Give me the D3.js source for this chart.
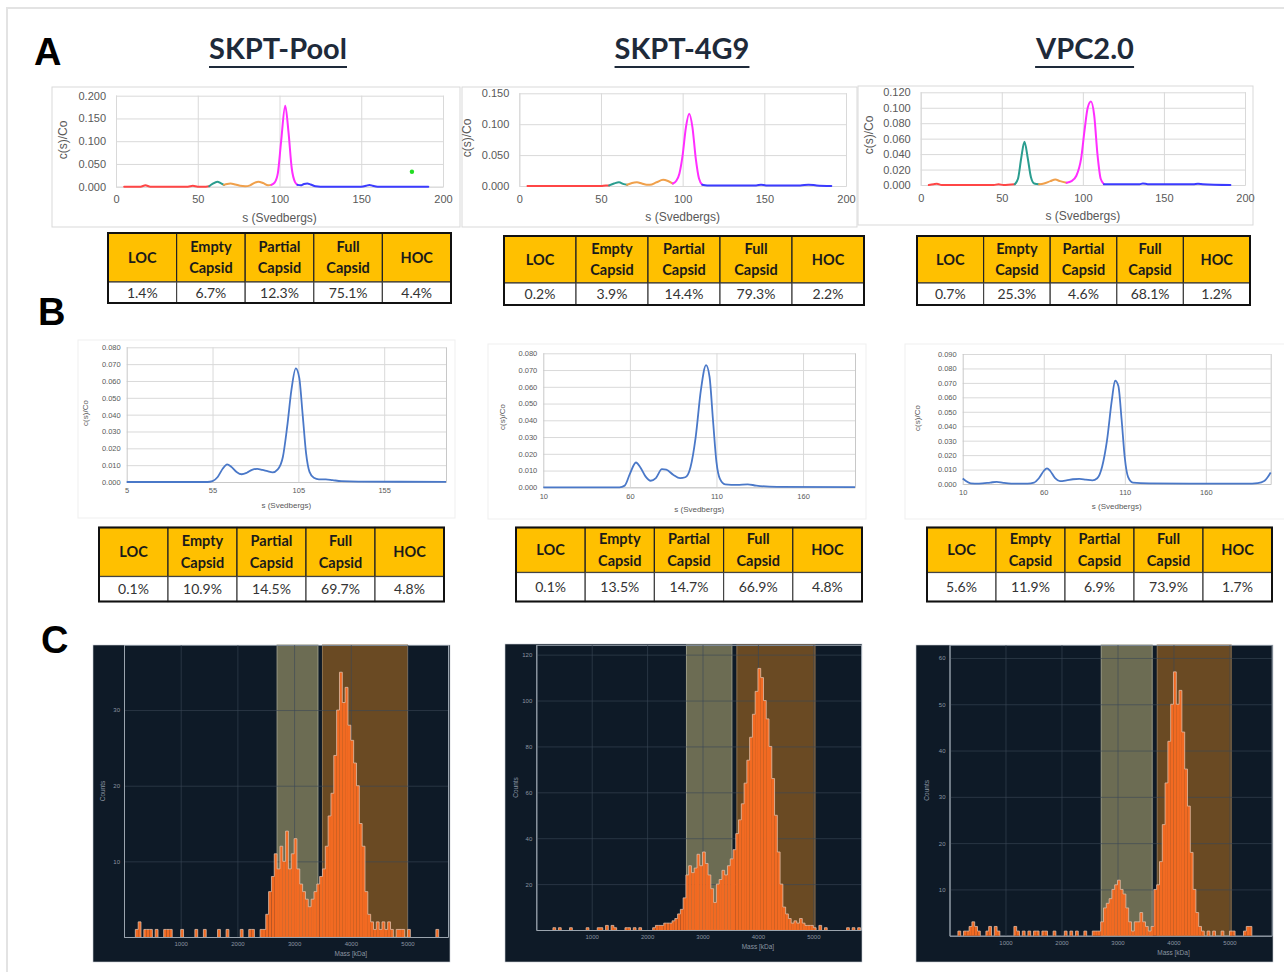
<!DOCTYPE html>
<html>
<head>
<meta charset="utf-8">
<script src="https://cdn.jsdelivr.net/npm/d3@7"></script>
<style>
  body { margin: 0; background: #fff; }
</style>
</head>
<body>
<div id="fig"></div>
<script>
// ---------- data ----------
const sampleNames = ['SKPT-Pool', 'SKPT-4G9', 'VPC2.0'];
const fractionNames = ['LOC', 'Empty Capsid', 'Partial Capsid', 'Full Capsid', 'HOC'];
const segmentColors = ['#ff4646', '#2a9d8f', '#f0a04b', '#ff2eff', '#3b3bff'];

// A: c(s) distributions, [s, c(s)/Co]; breaks split the fractions
const poolA = [[5,0],[15,0],[18,0.003],[21,0],[44,0],[47,0.002],[50,0],[55,0],[57,0.001],[59,0.006],[62,0.011],[64,0.008],[66,0.004],[68,0.006],[70,0.007],[73,0.005],[76,0.002],[79,0.001],[82,0.003],[85,0.009],[87,0.011],[90,0.008],[93,0.003],[95,0.004],[97,0.009],[99,0.03],[101,0.1],[103.5,0.178],[105.5,0.12],[107.5,0.04],[109.5,0.01],[111,0.004],[113,0.003],[115,0.006],[117,0.007],[119,0.005],[122,0.001],[125,0],[150,0],[153,0.002],[155,0.004],[157,0.002],[160,0],[191,0]];
const poolABreaks = [57, 66, 95, 111];
const poolADot = [181, 0.033];
const g9A = [[5,0],[50,0],[53,0.001],[55,0.001],[58,0.004],[61,0.006],[64,0.003],[66,0.002],[69,0.005],[72,0.006],[75,0.004],[78,0.002],[80,0.002],[84,0.006],[88,0.010],[91,0.008],[94,0.004],[96,0.008],[98,0.02],[100,0.05],[102,0.095],[104,0.117],[106,0.095],[108,0.045],[110,0.012],[112,0.002],[115,0.001],[145,0.001],[148,0.002],[151,0.001],[172,0.001],[177,0.002],[182,0.001],[191,0]];
const g9ABreaks = [55, 66, 94, 112];
const vpcA = [[5,0],[8,0.001],[10,0.0015],[13,0],[45,0],[48,0.001],[51,0],[58,0.001],[60,0.008],[62,0.035],[64,0.056],[66,0.035],[68,0.01],[70,0.002],[73,0.001],[76,0.002],[80,0.005],[83,0.007],[86,0.005],[90,0.003],[93,0.005],[96,0.012],[99,0.035],[101,0.07],[103,0.1],[105,0.108],[107,0.09],[109,0.04],[111,0.008],[113,0.001],[135,0.001],[137,0.002],[140,0.001],[168,0.001],[171,0.0015],[174,0.001],[191,0]];
const vpcABreaks = [58, 73, 90, 113];

const poolAPct = ['1.4%', '6.7%', '12.3%', '75.1%', '4.4%'];
const g9APct = ['0.2%', '3.9%', '14.4%', '79.3%', '2.2%'];
const vpcAPct = ['0.7%', '25.3%', '4.6%', '68.1%', '1.2%'];

// B: c(s) distributions
const poolB = [[5,0],[52,0],[55,0.0005],[58,0.003],[61,0.008],[63.5,0.0105],[66,0.009],[69,0.006],[72,0.0046],[75,0.0055],[78,0.0072],[81,0.0078],[84,0.0072],[87,0.0064],[90,0.0057],[93,0.0075],[96,0.015],[98.5,0.033],[101,0.055],[103.5,0.0675],[105.5,0.062],[107.5,0.04],[109.5,0.017],[111.5,0.006],[114,0.0025],[117,0.0016],[121,0.0016],[125,0.0011],[130,0.0005],[140,0.0002],[191,0.0001]];
const g9B = [[10,0],[54,0],[57,0.001],[60,0.008],[63.5,0.0148],[66,0.012],[69,0.0065],[72,0.0039],[75,0.0055],[78.5,0.0108],[81,0.0105],[85,0.0075],[89,0.0055],[92,0.006],[95,0.012],[98,0.03],[101,0.058],[104,0.073],[106,0.066],[108,0.04],[110,0.015],[112,0.005],[115,0.0018],[122,0.0015],[128,0.0018],[133,0.001],[145,0.0003],[190,0.0001]];
const vpcB = [[10,0.0038],[12,0.002],[15,0.0005],[20,0.0003],[27,0.001],[31,0.0015],[35,0.0008],[40,0.0003],[50,0.0003],[54,0.001],[57,0.004],[60,0.009],[62,0.0108],[64,0.009],[67,0.004],[70,0.002],[74,0.0025],[78,0.0033],[82,0.0035],[86,0.003],[90,0.0025],[93,0.004],[96,0.012],[99,0.03],[102,0.058],[104,0.0715],[106,0.068],[108,0.045],[110,0.018],[112,0.005],[115,0.001],[125,0.0004],[150,0.0002],[185,0.0002],[192,0.0006],[196,0.002],[198,0.0045],[200,0.008]];

const poolBPct = ['0.1%', '10.9%', '14.5%', '69.7%', '4.8%'];
const g9BPct = ['0.1%', '13.5%', '14.7%', '66.9%', '4.8%'];
const vpcBPct = ['5.6%', '11.9%', '6.9%', '73.9%', '1.7%'];

// C: mass photometry histograms, [bin start kDa, counts], bin width 50 kDa
const histBin = 50;
const poolC = [[200,1],[250,2],[350,1],[400,1],[450,1],[550,1],[700,1],[750,1],[800,1],[1000,1],[1250,1],[1400,1],[1650,1],[1800,1],[2050,1],[2200,1],[2250,1],[2400,1],[2450,1],[2500,3],[2550,6],[2600,8],[2650,11],[2700,9],[2750,12],[2800,10],[2850,14],[2900,9],[2950,11],[3000,13],[3050,9],[3100,7],[3150,6],[3200,5],[3250,4],[3300,5],[3350,6],[3400,7],[3450,8],[3500,9],[3550,12],[3600,16],[3650,19],[3700,24],[3750,30],[3800,35],[3850,31],[3900,33],[3950,28],[4000,26],[4050,23],[4100,20],[4150,15],[4200,12],[4250,6],[4300,3],[4350,2],[4400,1],[4450,2],[4500,1],[4550,2],[4600,1],[4650,2],[4700,1],[4800,1],[4850,1],[4900,1],[5000,1],[5500,1]];
const g9C = [[300,1],[400,1],[600,1],[900,1],[1100,1],[1150,1],[1250,2],[1350,2],[1400,1],[1600,1],[1650,1],[1750,1],[1850,1],[2100,1],[2150,2],[2200,2],[2250,2],[2300,3],[2350,3],[2400,3],[2450,4],[2500,5],[2550,7],[2600,9],[2650,14],[2700,24],[2750,28],[2800,25],[2850,27],[2900,33],[2950,28],[3000,34],[3050,29],[3100,24],[3150,18],[3200,12],[3250,20],[3300,22],[3350,26],[3400,24],[3450,28],[3500,31],[3550,35],[3600,42],[3650,48],[3700,55],[3750,64],[3800,74],[3850,84],[3900,94],[3950,104],[4000,114],[4050,110],[4100,100],[4150,92],[4200,80],[4250,66],[4300,50],[4350,34],[4400,20],[4450,10],[4500,7],[4550,5],[4600,3],[4650,4],[4700,3],[4750,5],[4800,3],[4850,2],[4900,2],[4950,2],[5000,1],[5100,2],[5200,1],[5600,1],[5700,1],[5800,1]];
const vpcC = [[150,1],[250,1],[300,1],[350,2],[400,3],[450,2],[500,1],[650,1],[700,2],[800,2],[850,1],[1150,2],[1200,1],[1300,1],[1400,1],[1500,1],[1550,1],[1650,1],[1700,1],[1850,1],[2050,1],[2150,1],[2250,1],[2400,1],[2550,1],[2600,1],[2650,1],[2700,3],[2750,6],[2800,7],[2850,8],[2900,10],[2950,11],[3000,12],[3050,10],[3100,9],[3150,6],[3200,3],[3250,1],[3300,3],[3350,3],[3400,5],[3450,3],[3500,2],[3550,1],[3600,2],[3650,10],[3700,11],[3750,16],[3800,24],[3850,33],[3900,42],[3950,50],[4000,57],[4050,50],[4100,53],[4150,44],[4200,36],[4250,28],[4300,18],[4350,10],[4400,5],[4450,2],[4500,1],[4600,1],[4700,1],[4850,1],[5000,1],[5050,1],[5250,1],[5300,2],[5350,2]];

// gates [from, to] in kDa: empty / full
const poolGates = [[2700, 3420], [3500, 5000]];
const g9Gates = [[2710, 3530], [3620, 5030]];
const vpcGates = [[2710, 3620], [3710, 5030]];

const massTicks = [1000, 2000, 3000, 4000, 5000];

// ---------- svg ----------
const W = 1284, H = 972;
const svg = d3.select('#fig').append('svg').attr('width', W).attr('height', H);

svg.append('rect')
  .attr('x', 7).attr('y', 8).attr('width', 1300).attr('height', 1000)
  .attr('fill', '#fff').attr('stroke', '#e3e3e3').attr('stroke-width', 2);

const SANS = "'Liberation Sans', Arial, sans-serif";
const CAL = "Lato, 'Open Sans', sans-serif";

// panel letters
[['A', 34, 65], ['B', 38, 325], ['C', 41, 653]].forEach(([t, x, y]) => {
  svg.append('text').attr('x', x).attr('y', y).text(t)
    .style('font', `bold 38px ${SANS}`).attr('fill', '#000');
});

// sample titles
[[278, sampleNames[0]], [682, sampleNames[1]], [1085, sampleNames[2]]].forEach(([cx, name]) => {
  const t = svg.append('text').attr('x', cx).attr('y', 59).attr('text-anchor', 'middle').text(name)
    .style('font', `bold 29px ${CAL}`).attr('fill', '#1e2a3a');
  const bb = t.node().getBBox();
  svg.append('line').attr('x1', bb.x).attr('x2', bb.x + bb.width).attr('y1', 67).attr('y2', 67)
    .attr('stroke', '#1e2a3a').attr('stroke-width', 2.2);
});

//#region sedimentation charts
function sedChart(c) {
  const g = svg.append('g');
  g.append('rect')
    .attr('x', c.frame[0]).attr('y', c.frame[1])
    .attr('width', c.frame[2] - c.frame[0]).attr('height', c.frame[3] - c.frame[1])
    .attr('fill', '#fff').attr('stroke', c.frameColor).attr('stroke-width', 1);

  const x = d3.scaleLinear().domain(c.xDomain).range([c.left, c.right]);
  const y = d3.scaleLinear().domain(c.yDomain).range([c.bottom, c.top]);

  const yAx = g.append('g').attr('transform', `translate(${c.left},0)`)
    .call(d3.axisLeft(y).tickValues(c.yTicks).tickSize(-(c.right - c.left))
      .tickPadding(c.yPad).tickFormat(d3.format('.3f')));
  yAx.select('.domain').remove();
  yAx.selectAll('line').attr('stroke', '#d9d9d9');
  yAx.selectAll('text').attr('fill', '#595959').style('font', `${c.font}px ${SANS}`);

  const xAx = g.append('g').attr('transform', `translate(0,${c.bottom})`)
    .call(d3.axisBottom(x).tickValues(c.xTicks).tickSize(-(c.bottom - c.top))
      .tickPadding(c.xPad).tickFormat(d3.format('d')));
  xAx.select('.domain').attr('stroke', c.axisColor);
  xAx.selectAll('line').attr('stroke', '#d9d9d9')
    .filter(d => c.noEdgeGrid && d === c.xDomain[0]).remove();
  xAx.selectAll('text').attr('fill', '#595959').style('font', `${c.font}px ${SANS}`);

  g.append('text').attr('x', (c.left + c.right) / 2).attr('y', c.xTitleY)
    .attr('text-anchor', 'middle').text('s (Svedbergs)')
    .attr('fill', '#595959').style('font', `${c.titleFont}px ${SANS}`);
  g.append('text').attr('transform', `translate(${c.yTitleX},${c.yTitleY}) rotate(-90)`)
    .attr('text-anchor', 'middle').text('c(s)/Co')
    .attr('fill', '#595959').style('font', `${c.titleFont}px ${SANS}`);

  const line = d3.line().x(d => x(d[0])).y(d => y(d[1])).curve(d3.curveMonotoneX);

  if (c.breaks) {
    const edges = [-Infinity, ...c.breaks, Infinity];
    segmentColors.forEach((col, i) => {
      const pts = c.data.filter(d => d[0] >= edges[i] && d[0] <= edges[i + 1]);
      g.append('path').attr('d', line(pts)).attr('fill', 'none')
        .attr('stroke', col).attr('stroke-width', c.lineWidth)
        .attr('stroke-linejoin', 'round').attr('stroke-linecap', 'round');
    });
  } else {
    g.append('path').attr('d', line(c.data)).attr('fill', 'none')
      .attr('stroke', c.lineColor).attr('stroke-width', c.lineWidth)
      .attr('stroke-linejoin', 'round');
  }
  if (c.dot) {
    g.append('circle').attr('cx', x(c.dot[0])).attr('cy', y(c.dot[1])).attr('r', 2.2).attr('fill', '#22dd22');
  }
}

const aBase = { frameColor: '#d9d9d9', axisColor: '#d9d9d9', font: 11, titleFont: 12, yPad: 10, xPad: 9, lineWidth: 2, xDomain: [0, 200], xTicks: [0, 50, 100, 150, 200] };
sedChart({ ...aBase, data: poolA, breaks: poolABreaks, dot: poolADot, frame: [52, 87, 460, 227],
  left: 116, right: 443, top: 95.7, bottom: 186.7, yDomain: [0, 0.2], yTicks: [0, 0.05, 0.1, 0.15, 0.2],
  xTitleY: 222, yTitleX: 67, yTitleY: 140 });
sedChart({ ...aBase, data: g9A, breaks: g9ABreaks, frame: [462, 87, 857, 227],
  left: 519.3, right: 846, top: 93.3, bottom: 186, yDomain: [0, 0.15], yTicks: [0, 0.05, 0.1, 0.15],
  xTitleY: 221, yTitleX: 471, yTitleY: 138 });
sedChart({ ...aBase, data: vpcA, breaks: vpcABreaks, frame: [858, 86, 1253, 225],
  left: 920.7, right: 1245, top: 92.3, bottom: 185, yDomain: [0, 0.12], yTicks: [0, 0.02, 0.04, 0.06, 0.08, 0.1, 0.12],
  xTitleY: 220, yTitleX: 873, yTitleY: 135 });

const bBase = { frameColor: '#efefef', axisColor: '#c8c8c8', font: 7.5, titleFont: 8, yPad: 6, xPad: 6, lineWidth: 1.8, lineColor: '#4a78c8', noEdgeGrid: true };
sedChart({ ...bBase, data: poolB, frame: [78, 340, 455, 518],
  left: 126.7, right: 446, top: 347.3, bottom: 482, xDomain: [5, 191], xTicks: [5, 55, 105, 155],
  yDomain: [0, 0.08], yTicks: [0, 0.01, 0.02, 0.03, 0.04, 0.05, 0.06, 0.07, 0.08],
  xTitleY: 508, yTitleX: 88, yTitleY: 413 });
sedChart({ ...bBase, data: g9B, frame: [488, 344, 866, 519],
  left: 543.3, right: 855, top: 353.3, bottom: 487.3, xDomain: [10, 190], xTicks: [10, 60, 110, 160],
  yDomain: [0, 0.08], yTicks: [0, 0.01, 0.02, 0.03, 0.04, 0.05, 0.06, 0.07, 0.08],
  xTitleY: 512, yTitleX: 505, yTitleY: 417 });
sedChart({ ...bBase, data: vpcB, frame: [905, 344, 1290, 519],
  left: 962.7, right: 1270.7, top: 354, bottom: 484, xDomain: [10, 200], xTicks: [10, 60, 110, 160],
  yDomain: [0, 0.09], yTicks: [0, 0.01, 0.02, 0.03, 0.04, 0.05, 0.06, 0.07, 0.08, 0.09],
  xTitleY: 509, yTitleX: 920, yTitleY: 418 });
//#endregion

//#region tables
function drawTable(t, values) {
  const g = svg.append('g');
  const col = d3.scaleBand().domain(fractionNames).range([t.x, t.x + t.w]);
  fractionNames.forEach((name, i) => {
    const cx = col(name) + col.bandwidth() / 2;
    g.append('rect').attr('x', col(name)).attr('y', t.y).attr('width', col.bandwidth()).attr('height', t.hh)
      .attr('fill', '#ffc000').attr('stroke', '#222').attr('stroke-width', 1.2);
    g.append('rect').attr('x', col(name)).attr('y', t.y + t.hh).attr('width', col.bandwidth()).attr('height', t.vh)
      .attr('fill', '#fff').attr('stroke', '#444').attr('stroke-width', 1.2);
    const lines = name.split(' ');
    const mid = t.y + t.hh / 2;
    lines.forEach((ln, j) => {
      g.append('text').attr('x', cx).attr('y', mid + (j - (lines.length - 1) / 2) * 21.5 + 5)
        .attr('text-anchor', 'middle').text(ln)
        .attr('fill', '#1a1a1a').style('font', `bold 14.5px ${CAL}`);
    });
    g.append('text').attr('x', cx).attr('y', t.y + t.hh + t.vh / 2 + 5)
      .attr('text-anchor', 'middle').text(values[i])
      .attr('fill', '#333').style('font', `14px ${CAL}`);
  });
  g.append('rect').attr('x', t.x).attr('y', t.y).attr('width', t.w).attr('height', t.hh + t.vh)
    .attr('fill', 'none').attr('stroke', '#111').attr('stroke-width', 2);
}

drawTable({ x: 108, y: 233, w: 343, hh: 49, vh: 21 }, poolAPct);
drawTable({ x: 504, y: 236, w: 360, hh: 47, vh: 22 }, g9APct);
drawTable({ x: 917, y: 236, w: 333, hh: 47, vh: 22 }, vpcAPct);
drawTable({ x: 99, y: 527.5, w: 345, hh: 49, vh: 25 }, poolBPct);
drawTable({ x: 516, y: 527.5, w: 346, hh: 45, vh: 29 }, g9BPct);
drawTable({ x: 927, y: 527.5, w: 345, hh: 45, vh: 29 }, vpcBPct);
//#endregion

//#region mass photometry histograms
function histChart(c) {
  const g = svg.append('g');
  g.append('rect').attr('x', c.panel[0]).attr('y', c.panel[1])
    .attr('width', c.panel[2] - c.panel[0]).attr('height', c.panel[3] - c.panel[1])
    .attr('fill', '#0e1a27').attr('stroke', '#c9ced4').attr('stroke-width', 0.6);

  const x = d3.scaleLinear().domain(c.xDomain).range([c.left, c.right]);
  const y = d3.scaleLinear().domain(c.yDomain).range([c.bottom, c.top]);

  // gates
  const gateFill = ['#6c6c53', '#6a4a23'];
  const gateEdge = ['#9a9a84', '#8f7350'];
  c.gates.forEach((gt, i) => {
    g.append('rect').attr('x', x(gt[0])).attr('y', c.top).attr('width', x(gt[1]) - x(gt[0]))
      .attr('height', c.bottom - c.top).attr('fill', gateFill[i])
      .attr('stroke', gateEdge[i]).attr('stroke-width', 1);
  });

  const yAx = g.append('g').attr('transform', `translate(${c.left},0)`)
    .call(d3.axisLeft(y).tickValues(c.yTicks).tickSize(-(c.right - c.left)).tickPadding(4).tickFormat(d3.format('d')));
  yAx.select('.domain').attr('stroke', '#7d8893');
  yAx.selectAll('line').attr('stroke', '#3a4756').attr('stroke-opacity', 0.6);
  yAx.selectAll('text').attr('fill', '#8b95a1').style('font', `6px ${SANS}`);

  const xAx = g.append('g').attr('transform', `translate(0,${c.bottom})`)
    .call(d3.axisBottom(x).tickValues(massTicks).tickSize(-(c.bottom - c.top)).tickPadding(5).tickFormat(d3.format('d')));
  xAx.select('.domain').attr('stroke', '#9aa4ae');
  xAx.selectAll('line').attr('stroke', '#3a4756').attr('stroke-opacity', 0.6);
  xAx.selectAll('text').attr('fill', '#8b95a1').style('font', `6px ${SANS}`);

  const counts = new Map(c.data.map(d => [d[0], d[1]]));
  g.append('g').selectAll('rect').data(c.data).join('rect')
    .attr('x', d => x(d[0])).attr('width', d => x(d[0] + histBin) - x(d[0]))
    .attr('y', d => y(d[1])).attr('height', d => c.bottom - y(d[1]))
    .attr('fill', '#f26a22');

  // light outline on the exposed edges of the bars
  g.append('g').selectAll('path').data(c.data).join('path')
    .attr('d', d => {
      const x0 = x(d[0]), x1 = x(d[0] + histBin), yt = y(d[1]);
      const yl = y(Math.min(d[1], counts.get(d[0] - histBin) || 0));
      const yr = y(Math.min(d[1], counts.get(d[0] + histBin) || 0));
      return `M${x0},${yl}V${yt}H${x1}V${yr}`;
    })
    .attr('fill', 'none').attr('stroke', '#e2c0ab').attr('stroke-opacity', 0.85).attr('stroke-width', 0.9);

  g.append('text').attr('transform', `translate(${c.yTitleX},${(c.top + c.bottom) / 2}) rotate(-90)`)
    .attr('text-anchor', 'middle').text('Counts')
    .attr('fill', '#8b95a1').style('font', `6.5px ${SANS}`);
  g.append('text').attr('x', x(4000)).attr('y', c.bottom + 19)
    .attr('text-anchor', 'middle').text('Mass [kDa]')
    .attr('fill', '#8b95a1').style('font', `6.5px ${SANS}`);
}

histChart({ data: poolC, gates: poolGates, panel: [93, 645, 450, 962],
  left: 124, right: 448, top: 645, bottom: 937, xDomain: [0, 5714], yDomain: [0, 38.6], yTicks: [10, 20, 30], yTitleX: 105 });
histChart({ data: g9C, gates: g9Gates, panel: [505, 644, 862, 962],
  left: 536.3, right: 861, top: 645, bottom: 930, xDomain: [0, 5860], yDomain: [0, 124.2], yTicks: [20, 40, 60, 80, 100, 120], yTitleX: 518 });
histChart({ data: vpcC, gates: vpcGates, panel: [916, 645, 1273, 962],
  left: 949.5, right: 1271.7, top: 645, bottom: 935.7, xDomain: [0, 5754], yDomain: [0, 62.8], yTicks: [10, 20, 30, 40, 50, 60], yTitleX: 929 });
//#endregion
</script>
</body>
</html>
